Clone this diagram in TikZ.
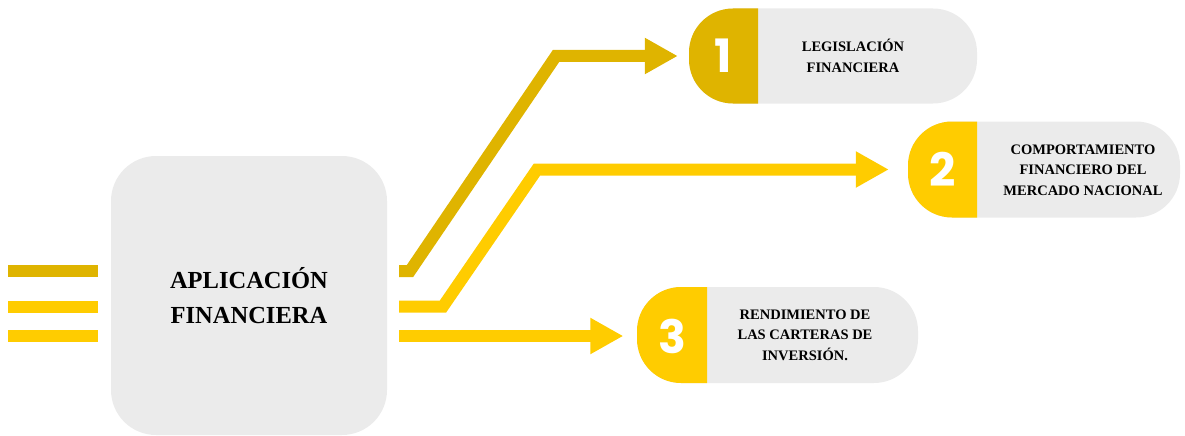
\documentclass[tikz,border=0pt]{standalone}
\usepackage{fontspec}
\setmainfont{Liberation Serif}
\newfontfamily\numfont{Poppins}
\usetikzlibrary{arrows.meta}
\definecolor{gdark}{HTML}{DFB400}
\definecolor{gbright}{HTML}{FFCC00}
\definecolor{boxgray}{HTML}{EBEBEB}
\begin{document}
\begin{tikzpicture}[x=1pt,y=-1pt,
  bar/.style={line width=12pt},
  conn/.style={line width=12pt, line join=miter, -{Triangle[length=33pt,width=34pt]}},
  mainbox/.style={fill=boxgray, rounded corners=45pt, minimum width=276pt, minimum height=279pt, inner sep=0pt, align=center, font=\bfseries\fontsize{24.5}{35}\selectfont},
  pillbg/.style={fill=boxgray, rounded corners=44pt},
  numbox/.style={minimum width=69pt, minimum height=95pt, inner sep=0pt, text=white, font=\numfont\bfseries\fontsize{46}{46}\selectfont},
  pilltext/.style={align=center, font=\bfseries\fontsize{14.5}{20.5}\selectfont}
]
\useasboundingbox (0,0) rectangle (1185,436);

% main box
\node[mainbox] (main) at (249,295.5) {APLICACIÓN\\FINANCIERA};

% incoming bars
\coordinate (a1) at (8,271);   \coordinate (b1) at (98,271);
\coordinate (a2) at (8,306.5); \coordinate (b2) at (98,306.5);
\coordinate (a3) at (8,336);   \coordinate (b3) at (98,336);
\draw[bar, gdark] (a1) -- (b1);
\draw[bar, gbright] (a2) -- (b2);
\draw[bar, gbright] (a3) -- (b3);

% pill 1
\fill[pillbg] (689,8.5) rectangle (977,103.5);
\fill[gdark] (758,8.5) [rounded corners=44pt] -- (689,8.5) -- (689,103.5) [sharp corners] -- (758,103.5) -- cycle;
\node[numbox] (n1) at (723.5,56) {1};
\node[pilltext] (t1) at (853,56) {LEGISLACIÓN\\FINANCIERA};

% pill 2
\fill[pillbg] (908,121.5) rectangle (1180,217.5);
\fill[gbright] (977,121.5) [rounded corners=44pt] -- (908,121.5) -- (908,217.5) [sharp corners] -- (977,217.5) -- cycle;
\node[numbox] (n2) at (942.5,169.5) {2};
\node[pilltext] (t2) at (1083,170) {COMPORTAMIENTO\\FINANCIERO DEL\\MERCADO NACIONAL};

% pill 3
\fill[pillbg] (637,287) rectangle (918,383);
\fill[gbright] (707,287) [rounded corners=44pt] -- (637,287) -- (637,383) [sharp corners] -- (707,383) -- cycle;
\node[numbox] (n3) at (672,336) {3};
\node[pilltext] (t3) at (805,335) {RENDIMIENTO DE\\LAS CARTERAS DE\\INVERSIÓN.};

% outgoing connectors
\coordinate (o1) at (399,271);
\coordinate (o2) at (399,306.5);
\coordinate (o3) at (399,336);
\draw[conn, gdark] (o1) -- (410,271) -- (556,56) -- ([xshift=-11pt]n1.west);
\draw[conn, gbright] (o2) -- (443,306.5) -- (537,169.5) -- ([xshift=-19pt]n2.west);
\draw[conn, gbright] (o3) -- ([xshift=-14pt]n3.west);
\end{tikzpicture}
\end{document}
